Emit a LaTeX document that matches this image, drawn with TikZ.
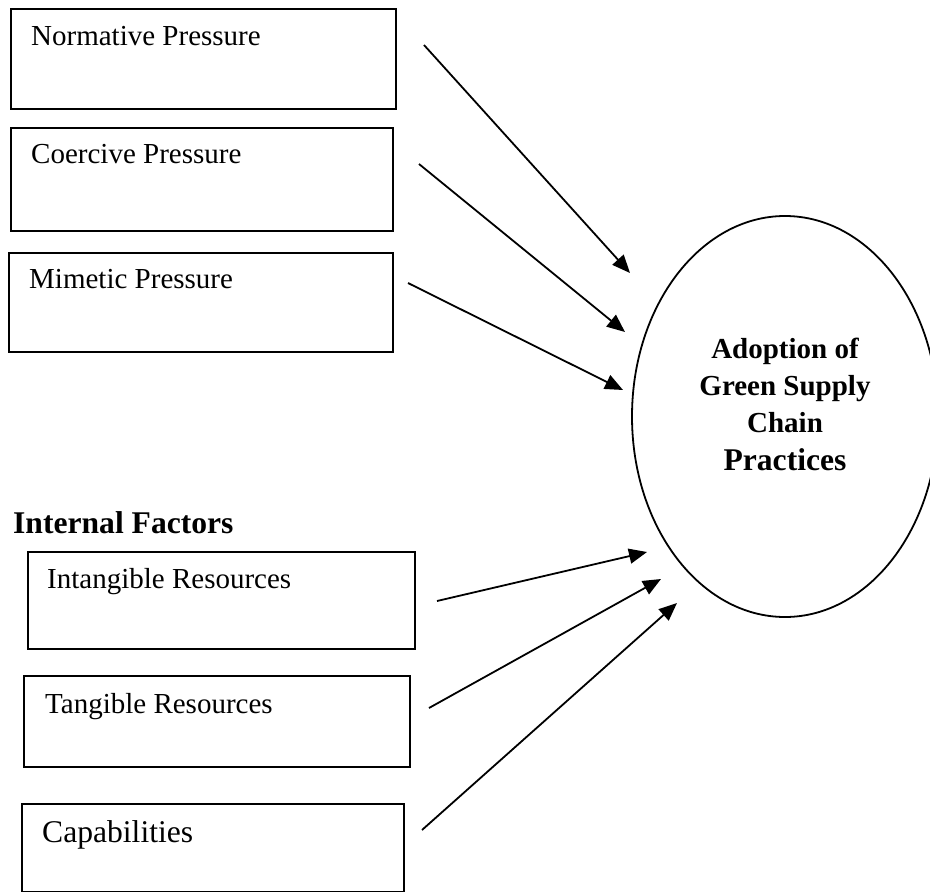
\documentclass[tikz,border=0pt]{standalone}
\usepackage{fontspec}
\setmainfont{Liberation Serif}
\usetikzlibrary{arrows.meta,shapes.geometric}
\begin{document}
\begin{tikzpicture}[x=1pt,y=-1pt,
  box/.style={draw,line width=2pt,inner sep=0pt,anchor=north west},
  lbl/.style={anchor=base west,inner sep=0pt,font=\fontsize{29}{35}\selectfont},
  biglbl/.style={anchor=base west,inner sep=0pt,font=\fontsize{31.6}{38}\selectfont},
  head/.style={anchor=base west,inner sep=0pt,font=\fontsize{31.6}{38}\selectfont\bfseries},
  elab/.style={anchor=base,inner sep=0pt,font=\fontsize{29}{35}\selectfont\bfseries},
  arr/.style={line width=1.8pt,-{Triangle[length=18pt,width=15pt]}}]
\useasboundingbox (0,0) rectangle (930,892);
% boxes
\node[box,minimum width=385pt,minimum height=100pt] (b1) at (10,8) {};
\node[box,minimum width=382pt,minimum height=103pt] (b2) at (10,127) {};
\node[box,minimum width=384pt,minimum height=99pt] (b3) at (8,252) {};
\node[box,minimum width=387pt,minimum height=97pt] (b4) at (27,551) {};
\node[box,minimum width=386pt,minimum height=91pt] (b5) at (23,675) {};
\node[box,minimum width=382pt,minimum height=88pt] (b6) at (21,803) {};
% labels
\node[lbl] (t1) at (31,45) {Normative Pressure};
\node[lbl] (t2) at (31,163) {Coercive Pressure};
\node[lbl] (t3) at (29,288) {Mimetic Pressure};
\node[head] (ih) at (13,533) {Internal Factors};
\node[lbl] (t4) at (47,588) {Intangible Resources};
\node[lbl] (t5) at (45,713) {Tangible Resources};
\node[biglbl] (t6) at (42,842) {Capabilities};
% ellipse
\node[draw,ellipse,line width=1.8pt,inner sep=0pt,minimum width=306pt,minimum height=401pt] (e) at (785,416.5) {};
\node[elab] (g1) at (785,358) {Adoption of};
\node[elab] (g2) at (785,395) {Green Supply};
\node[elab] (g3) at (785,432) {Chain};
\node[elab,font=\fontsize{31.6}{38}\selectfont\bfseries] (g4) at (785,470) {Practices};
% arrow end points
\coordinate (s1) at (424,45);  \coordinate (e1) at (630,273);
\coordinate (s2) at (419,164); \coordinate (e2) at (625,332);
\coordinate (s3) at (408,283); \coordinate (e3) at (623,390);
\coordinate (s4) at (437,601); \coordinate (e4) at (647,552);
\coordinate (s5) at (429,708); \coordinate (e5) at (661,579);
\coordinate (s6) at (422,830); \coordinate (e6) at (677,603);
\draw[arr] (s1) -- (e1);
\draw[arr] (s2) -- (e2);
\draw[arr] (s3) -- (e3);
\draw[arr] (s4) -- (e4);
\draw[arr] (s5) -- (e5);
\draw[arr] (s6) -- (e6);
\end{tikzpicture}
\end{document}
